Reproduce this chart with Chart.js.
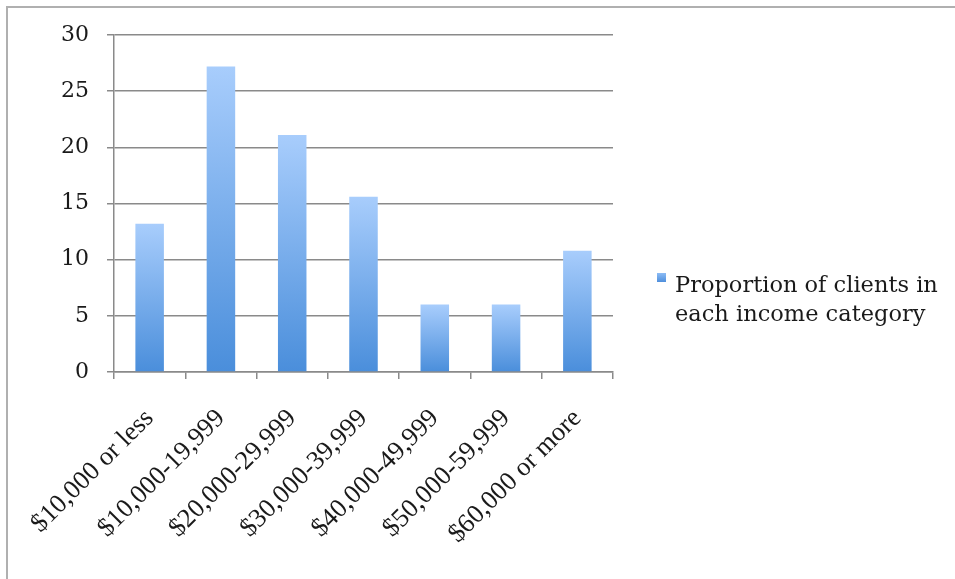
<!DOCTYPE html>
<html lang="en">
<head>
<meta charset="utf-8">
<script src="https://cdn.jsdelivr.net/npm/chart.js@4.4.1/dist/chart.umd.min.js"></script>
<title>Income categories</title>
<style>
  html, body { margin: 0; padding: 0; background: #fff; overflow: hidden; }
  .frame {
    position: absolute; left: 6px; top: 6px; width: 960px; height: 600px;
    border-left: 2px solid #b0b0b0; border-top: 2px solid #b0b0b0;
  }
  .box { position: absolute; left: 0; top: 0; width: 955px; height: 579px; }
</style>
</head>
<body>
<div class="frame"></div>
<div class="box"><canvas id="incomeChart" width="955" height="579"></canvas></div>
<script>
const categories = ['$10,000 or less', '$10,000-19,999', '$20,000-29,999', '$30,000-39,999',
                    '$40,000-49,999', '$50,000-59,999', '$60,000 or more'];
const proportions = [13.2, 27.2, 21.1, 15.6, 6.0, 6.0, 10.8];
const yTicks = [0, 5, 10, 15, 20, 25, 30];
const seriesLabel = ['Proportion of clients in', 'each income category'];

const serif = "'Liberation Serif', 'Times New Roman', serif";
const legendFont = "'DejaVu Serif', serif";

// vertical gradient for each bar, light at the top, darker at the base
function barFill(ctx) {
  const chart = ctx.chart;
  const y = chart.scales.y;
  if (!y || !ctx.parsed) return '#6fa8ec';
  const top = y.getPixelForValue(ctx.parsed.y);
  const base = y.getPixelForValue(0);
  if (!isFinite(top) || !isFinite(base) || top === base) return '#6fa8ec';
  const g = chart.ctx.createLinearGradient(0, top, 0, base);
  g.addColorStop(0, '#a8cdfc');
  g.addColorStop(1, '#4a8edb');
  return g;
}

// two-line legend to the right of the plot
const sideLegend = {
  id: 'sideLegend',
  afterDraw(chart) {
    const c = chart.ctx;
    c.save();
    const g = c.createLinearGradient(0, 273, 0, 282);
    g.addColorStop(0, '#8dbcf5');
    g.addColorStop(1, '#4f8fdc');
    c.fillStyle = g;
    c.fillRect(657, 273, 9, 9);
    c.fillStyle = '#1a1a1a';
    c.font = '22.5px ' + legendFont;
    c.textBaseline = 'alphabetic';
    c.fillText(seriesLabel[0], 675, 292);
    c.fillText(seriesLabel[1], 675, 321);
    c.restore();
  }
};

new Chart(document.getElementById('incomeChart'), {
  type: 'bar',
  data: {
    labels: categories,
    datasets: [{
      label: seriesLabel.join(' '),
      data: proportions,
      backgroundColor: barFill,
      borderWidth: 0,
      barPercentage: 0.4,
      categoryPercentage: 1.0
    }]
  },
  options: {
    responsive: false,
    animation: false,
    layout: { padding: { left: 0, right: 342, top: 35, bottom: 0 } },
    plugins: { legend: { display: false }, tooltip: { enabled: false } },
    scales: {
      x: {
        grid: { drawOnChartArea: false, drawTicks: true, tickLength: 7, color: '#8a8a8a', lineWidth: 1.5 },
        border: { color: '#8a8a8a', width: 1.5 },
        ticks: {
          color: '#1a1a1a', font: { family: serif, size: 26.5 },
          maxRotation: 45, minRotation: 45, padding: 24, labelOffset: 0
        },
        afterFit(scale) { scale.height = 207; }
      },
      y: {
        min: 0, max: 30,
        afterBuildTicks(scale) { scale.ticks = yTicks.map(v => ({ value: v })); },
        grid: { color: '#8a8a8a', lineWidth: 1.5, tickLength: 7 },
        border: { color: '#8a8a8a', width: 1.5 },
        ticks: { color: '#1a1a1a', font: { family: legendFont, size: 22 }, padding: 18 },
        afterFit(scale) { scale.width = 114; }
      }
    }
  },
  plugins: [sideLegend]
});
</script>
</body>
</html>
